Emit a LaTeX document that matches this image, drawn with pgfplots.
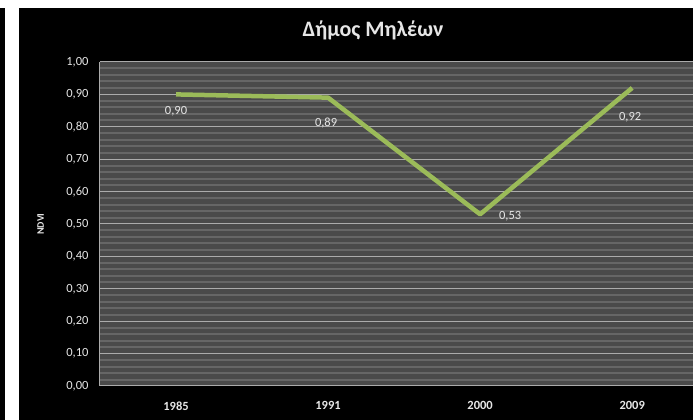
\documentclass[border=0pt]{standalone}
\usepackage{fontspec}
\setmainfont{Carlito}
\usepackage{pgfplots}
\pgfplotsset{compat=1.18}
\definecolor{plotbg}{HTML}{4A4A4A}
\definecolor{minorgrid}{HTML}{666666}
\definecolor{majorgrid}{HTML}{ABABAB}
\definecolor{txt}{HTML}{E6E6E6}
\definecolor{linegreen}{HTML}{9BBB59}
\begin{document}
\begin{tikzpicture}
\useasboundingbox (0pt,0pt) rectangle (693pt,420pt);
\fill[black] (0pt,0pt) rectangle (693pt,420pt);
\fill[white] (0pt,412pt) rectangle (693pt,420pt);
\fill[white] (5pt,0pt) rectangle (19pt,412pt);
\node[txt,font=\bfseries\fontsize{22}{26}\selectfont] at (373pt,390pt) {Δήμος Μηλέων};
\begin{axis}[
    at={(100pt,34pt)}, anchor=south west,
    scale only axis,
    width=593pt, height=324pt,
    xmin=-0.5, xmax=3.4,
    ymin=0, ymax=1,
    xtick={0,1,2,3},
    xticklabels={1985,1991,2000,2009},
    ytick={0,0.1,...,1.0},
    minor y tick num=4,
    major tick length=0pt, minor tick length=0pt,
    ymajorgrids, yminorgrids,
    major grid style={majorgrid, line width=1pt},
    minor grid style={minorgrid, line width=2pt},
    axis background/.style={fill=plotbg},
    axis x line*=bottom, axis y line*=left,
    axis line style={majorgrid, line width=1pt},
    /pgf/number format/.cd, fixed, fixed zerofill, precision=2, use comma, assume math mode=true,
    /pgfplots/.cd,
    yticklabel style={txt, font=\fontsize{12.5}{14}\selectfont, xshift=-8pt},
    xticklabel style={txt, font=\bfseries\fontsize{12.5}{14}\selectfont, yshift=-12pt},
    ylabel={NDVI},
    ylabel style={txt, font=\bfseries\fontsize{10}{12}\selectfont,
        at={(axis description cs:-0.1,0.5)}, anchor=center, rotate=0},
    clip=false,
]
\addplot[linegreen, line width=4.5pt, line join=round] coordinates {
    (0,0.90)
    (1,0.89)
    (2,0.53)
    (3,0.92)
};
\node[txt, font=\fontsize{12.5}{14}\selectfont] at (axis cs:0,0.90) [yshift=-17pt] {0,90};
\node[txt, font=\fontsize{12.5}{14}\selectfont] at (axis cs:1,0.89) [xshift=-2pt, yshift=-25pt] {0,89};
\node[txt, font=\fontsize{12.5}{14}\selectfont] at (axis cs:2,0.53) [xshift=30pt, yshift=-2pt] {0,53};
\node[txt, font=\fontsize{12.5}{14}\selectfont] at (axis cs:3,0.92) [xshift=-2pt, yshift=-29pt] {0,92};
\end{axis}
\end{tikzpicture}
\end{document}
